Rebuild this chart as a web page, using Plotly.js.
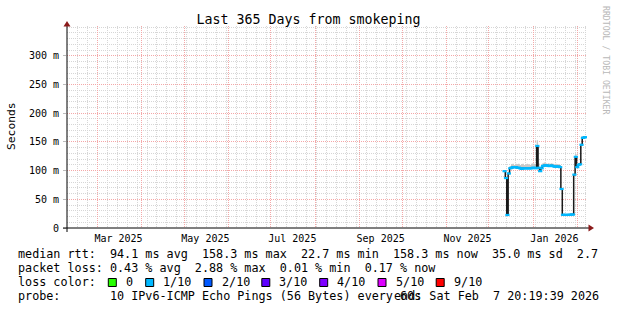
<!DOCTYPE html>
<html>
<head>
<meta charset="utf-8">
<script src="https://cdn.plot.ly/plotly-3.0.1.min.js"></script>
<style>
html,body{margin:0;padding:0;background:#fff;}
#chart{width:617px;height:310px;}
</style>
</head>
<body>
<div id="chart"></div>
<script>
// ---- data ----
const days = [
 '2025-12-12','2025-12-13','2025-12-14','2025-12-15','2025-12-16','2025-12-17','2025-12-18','2025-12-19','2025-12-20','2025-12-21',
 '2025-12-22','2025-12-23','2025-12-24','2025-12-25','2025-12-26','2025-12-27','2025-12-28','2025-12-29','2025-12-30','2025-12-31',
 '2026-01-01','2026-01-02','2026-01-03','2026-01-04','2026-01-05','2026-01-06','2026-01-07','2026-01-08','2026-01-09','2026-01-10',
 '2026-01-11','2026-01-12','2026-01-13','2026-01-14','2026-01-15','2026-01-16','2026-01-17','2026-01-18','2026-01-19','2026-01-20',
 '2026-01-21','2026-01-22','2026-01-23','2026-01-24','2026-01-25','2026-01-26','2026-01-27','2026-01-28','2026-01-29','2026-01-30',
 '2026-01-31','2026-02-01','2026-02-02','2026-02-03','2026-02-04','2026-02-05','2026-02-06','2026-02-07'
];
const medianMs = [
 99, 87, 22.7, 95, 104, 105, 106, 106, 106, 105,
 105, 104, 103, 104, 104, 104, 104, 104, 104, 104,
 105, 105, 104, 143, 105, 99, 104, 108, 109, 109,
 109, 108, 108, 109, 108, 107, 107, 107, 107, 106,
 68, 23, 23, 22.7, 22.8, 23, 23, 23.4, 23.5, 93,
 124, 106, 110, 111, 145, 157, 158, 158.3
];
const smokeHighMs = [
 101, 90, 25, 98, 108, 111, 112, 110, 112, 111,
 112, 110, 111, 112, 110, 111, 112, 111, 110, 112,
 113, 112, 111, 153, 113, 104, 110, 113, 114, 113,
 112, 113, 112, 113, 112, 111, 112, 111, 111, 110,
 70, 25, 25, 24.5, 25, 25, 25, 25.5, 25.5, 96,
 129, 110, 113, 114, 148, 159, 160, 160
];
const xRange = ['2025-02-07 20:19:39', '2026-02-07 20:19:39'];
const monthLabelDates = ['2025-03-16','2025-05-16','2025-07-16','2025-09-16','2025-11-16','2026-01-16'];
const monthLabels = ['Mar 2025','May 2025','Jul 2025','Sep 2025','Nov 2025','Jan 2026'];
const yTickVals = [0, 50, 100, 150, 200, 250, 300];
const yTickText = ['0', '50 m', '100 m', '150 m', '200 m', '250 m', '300 m'];
const lossLabels = ['0', '1/10', '2/10', '3/10', '4/10', '5/10', '9/10'];
const lossColors = ['#26ff00', '#00b8ff', '#0059ff', '#5e00ff', '#7e00ff', '#dd00ff', '#ff0000'];
const statsLines = [
 'median rtt:  94.1 ms avg  158.3 ms max  22.7 ms min  158.3 ms now  35.0 ms sd  2.7',
 'packet loss: 0.43 % avg  2.88 % max  0.01 % min  0.17 % now'
];
const probeText = 'probe:       10 IPv6-ICMP Echo Pings (56 Bytes) every 60s';
const endText = 'end: Sat Feb  7 20:19:39 2026';
const titleText = 'Last 365 Days from smokeping';

// ---- layout helpers (pixel -> paper) ----
const L = 67, R = 587, T = 26, B = 228;
const px = x => (x - L) / (R - L);
const py = y => (B - y) / (B - T);
const nb = s => s.replace(/ /g, '\u00a0');
const MONO = 'DejaVu Sans Mono';
const LEG = 11.75;

const traces = [
 {x: days, y: medianMs, type: 'scatter', mode: 'lines', line: {width: 0, shape: 'hvh'}, hoverinfo: 'skip', showlegend: false},
 {x: days, y: smokeHighMs, type: 'scatter', mode: 'lines', line: {width: 0, shape: 'hvh'}, fill: 'tonexty', fillcolor: '#c8c8c8', hoverinfo: 'skip', showlegend: false},
 {x: days, y: medianMs, type: 'scatter', mode: 'lines', line: {width: 1.5, color: '#1a1a1a', shape: 'hvh'}, showlegend: false},
 {x: days, y: medianMs, type: 'scatter', mode: 'markers', marker: {symbol: 'line-ew', size: 3, line: {width: 2.2, color: lossColors[1]}}, showlegend: false},
 {x: [xRange[0]], y: [null], xaxis: 'x2', type: 'scatter', mode: 'markers', showlegend: false, hoverinfo: 'skip'}
];

const annotations = [];
const legText = (t, x, y, anchor) => annotations.push({xref: 'paper', yref: 'paper', x: px(x), y: py(y), xanchor: anchor || 'left', yanchor: 'middle', showarrow: false, text: nb(t), font: {family: MONO, size: LEG, color: '#000'}});
legText(statsLines[0], 16, 254);
legText(statsLines[1], 16, 268);
legText('loss color:', 16, 282);
legText(probeText, 16, 296);
legText(endText, 600.5, 296, 'right');
annotations.push({xref: 'paper', yref: 'paper', x: px(11), y: py(126), xanchor: 'center', yanchor: 'middle', showarrow: false, textangle: -90, text: 'Seconds', font: {family: MONO, size: 11.3, color: '#000'}});
annotations.push({xref: 'paper', yref: 'paper', x: px(606), y: py(60), xanchor: 'center', yanchor: 'middle', showarrow: false, textangle: 90, text: nb('RRDTOOL / TOBI OETIKER'), font: {family: MONO, size: 8.2, color: '#b8b8b8'}});

const shapes = [];
const sqX = [108.3, 145.7, 204, 261.8, 319.7, 378, 436.2];
lossColors.forEach((c, i) => {
  shapes.push({type: 'rect', xref: 'paper', yref: 'paper', x0: px(sqX[i]), x1: px(sqX[i] + 8), y0: py(286.5), y1: py(278.5), fillcolor: c, line: {color: '#000', width: 1}});
  legText(lossLabels[i], sqX[i] + 15.5, 282);
});
// axis lines and arrows
shapes.push({type: 'line', xref: 'paper', yref: 'paper', x0: px(63), x1: px(589), y0: py(228), y1: py(228), line: {color: '#000', width: 1}});
shapes.push({type: 'line', xref: 'paper', yref: 'paper', x0: px(67), x1: px(67), y0: py(232), y1: py(25), line: {color: '#000', width: 1}});
shapes.push({type: 'path', xref: 'paper', yref: 'paper', path: `M ${px(588.5)} ${py(224.5)} L ${px(594)} ${py(228)} L ${px(588.5)} ${py(231.5)} Z`, fillcolor: '#8b1a1a', line: {width: 0}});
shapes.push({type: 'path', xref: 'paper', yref: 'paper', path: `M ${px(63.5)} ${py(26.5)} L ${px(67)} ${py(21)} L ${px(70.5)} ${py(26.5)} Z`, fillcolor: '#8b1a1a', line: {width: 0}});

const gridMinor = '#d6d6d6';
const gridMajor = '#f4a8a8';
const layout = {
  width: 617, height: 310,
  paper_bgcolor: '#ffffff', plot_bgcolor: '#ffffff',
  margin: {l: L, r: 617 - R, t: T, b: 310 - B, pad: 0},
  showlegend: false,
  title: {text: titleText, x: 0.5, xref: 'container', xanchor: 'center', y: 1 - 19 / 310, yref: 'container', yanchor: 'middle', font: {family: MONO, size: 13.3, color: '#000'}},
  xaxis: {
    type: 'date', range: xRange, showline: false, zeroline: false,
    tickmode: 'linear', tick0: '2025-03-01', dtick: 'M1',
    showgrid: true, gridcolor: gridMajor, griddash: '1px,1px', gridwidth: 1,
    showticklabels: false, ticks: '',
    minor: {tickmode: 'linear', tick0: '2025-02-15', dtick: 7 * 86400000, showgrid: true, gridcolor: gridMinor, griddash: '1px,1px', gridwidth: 1, ticks: ''}
  },
  xaxis2: {
    type: 'date', range: xRange, overlaying: 'x', anchor: 'y', side: 'bottom',
    tickmode: 'array', tickvals: monthLabelDates, ticktext: monthLabels,
    showgrid: false, zeroline: false, showline: false, ticks: '',
    tickfont: {family: MONO, size: 10, color: '#000'}, ticklabelstandoff: 3
  },
  yaxis: {
    range: [0, 352], showline: false, zeroline: false,
    tickmode: 'array', tickvals: yTickVals, ticktext: yTickText,
    showgrid: true, gridcolor: gridMajor, griddash: '1px,1px', gridwidth: 1,
    ticks: 'outside', ticklen: 3, tickcolor: '#bbbbbb',
    tickfont: {family: MONO, size: 10, color: '#000'}, ticklabelstandoff: 2,
    minor: {tickmode: 'linear', tick0: 0, dtick: 10, showgrid: true, gridcolor: gridMinor, griddash: '1px,1px', gridwidth: 1, ticks: ''}
  },
  shapes: shapes,
  annotations: annotations
};

Plotly.newPlot('chart', traces, layout, {staticPlot: true, displayModeBar: false});
</script>
</body>
</html>
